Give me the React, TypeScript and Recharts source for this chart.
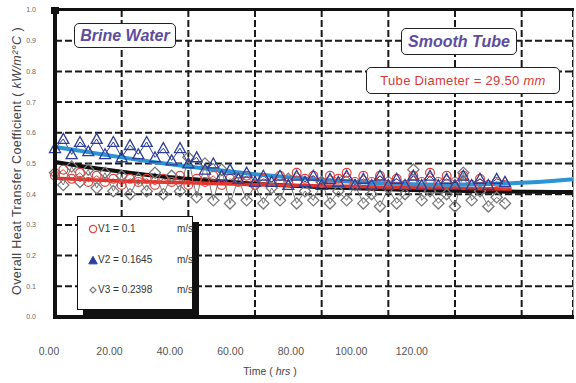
import { CartesianGrid, ComposedChart, Legend, Line, XAxis, YAxis } from "recharts";

// sampling times of the measured runs (hrs)
const hours = [
  0, 2.5, 5, 7.5, 10, 12.5, 15, 17.5, 20, 22.5, 25, 27.5, 30, 32.5, 35, 37.5, 40, 42.5, 45, 47.5,
  50, 52.5, 55, 57.5, 60, 62.5, 65, 67.5, 70, 72.5, 75, 77.5, 80, 82.5, 85, 87.5, 90, 92.5, 95, 97.5,
  100, 102.5, 105, 107.5, 110, 112.5, 115, 117.5, 120, 122.5, 125, 127.5, 130, 132.5, 135,
];

// V1 = 0.1 m/s
const v1 = [
  0.46, 0.48, 0.45, 0.47, 0.44, 0.46, 0.44, 0.45, 0.43, 0.45, 0.44, 0.45, 0.43, 0.45, 0.44, 0.46, 0.43, 0.45, 0.44, 0.46,
  0.43, 0.45, 0.44, 0.46, 0.43, 0.45, 0.44, 0.46, 0.44, 0.47, 0.45, 0.46, 0.44, 0.46, 0.45, 0.47, 0.44, 0.46, 0.44, 0.46,
  0.44, 0.45, 0.43, 0.46, 0.44, 0.47, 0.44, 0.46, 0.44, 0.46, 0.43, 0.45, 0.43, 0.44, 0.43,
];

// V2 = 0.1645 m/s
const v2 = [
  0.55, 0.58, 0.53, 0.57, 0.54, 0.58, 0.53, 0.57, 0.52, 0.56, 0.53, 0.57, 0.52, 0.55, 0.51, 0.55, 0.5, 0.52, 0.48, 0.5,
  0.46, 0.48, 0.45, 0.47, 0.44, 0.46, 0.44, 0.46, 0.43, 0.46, 0.44, 0.46, 0.43, 0.45, 0.44, 0.46, 0.43, 0.45, 0.43, 0.46,
  0.43, 0.45, 0.43, 0.46, 0.43, 0.46, 0.43, 0.45, 0.43, 0.46, 0.43, 0.45, 0.43, 0.45, 0.44,
];

// V3 = 0.2398 m/s
const v3 = [
  0.47, 0.43, 0.49, 0.44, 0.48, 0.42, 0.47, 0.41, 0.46, 0.4, 0.45, 0.41, 0.47, 0.4, 0.46, 0.41, 0.52, 0.39, 0.5, 0.38,
  0.48, 0.37, 0.45, 0.38, 0.43, 0.37, 0.42, 0.38, 0.45, 0.37, 0.41, 0.38, 0.44, 0.37, 0.41, 0.38, 0.43, 0.37, 0.4, 0.36,
  0.42, 0.37, 0.4, 0.48, 0.38, 0.41, 0.37, 0.4, 0.36, 0.47, 0.38, 0.41, 0.36, 0.39, 0.37,
];

// fitted trend curves
const trendHours = [0, 10, 20, 30, 40, 50, 60, 70, 80, 90, 100, 110, 120, 130, 140, 150, 155.4];
const trendV2 = [0.554, 0.537, 0.52, 0.504, 0.49, 0.477, 0.465, 0.455, 0.447, 0.44, 0.435, 0.432, 0.431, 0.433, 0.437, 0.444, 0.449];
const trendV3 = [0.505, 0.488, 0.473, 0.46, 0.45, 0.441, 0.434, 0.428, 0.423, 0.419, 0.416, 0.413, 0.411, 0.409, 0.408, 0.407, 0.407];
const trendV1Hours = [0, 10, 20, 30, 40, 50, 60, 70, 80, 90, 100, 110, 120, 130, 137];
const trendV1 = [0.452, 0.447, 0.443, 0.44, 0.437, 0.434, 0.431, 0.429, 0.427, 0.425, 0.423, 0.421, 0.419, 0.418, 0.417];

const xTicks = [0, 20, 40, 60, 80, 100, 120, 140];
const lastLabel = 120;
const yTicks = [0, 0.1, 0.2, 0.3, 0.4, 0.5, 0.6, 0.7, 0.8, 0.9, 1.0];
const X_MAX = 155.4;

const FONT = "'Liberation Sans', Arial, sans-serif";
const RED = "#e0463e";
const NAVY = "#2e3d96";
const GRAY = "#7a7a7a";
const PURPLE = "#5c4d9e";

// plot box in page pixels (margin + axis sizes below)
const PLOT = { left: 55, top: 10, right: 573, bottom: 317 };

const toRows = (xs: number[], ys: number[]) => xs.map((h, i) => ({ h, v: ys[i] }));

const v1Rows = toRows(hours, v1);
const v2Rows = toRows(hours, v2);
const v3Rows = toRows(hours, v3);
const trendV1Rows = toRows(trendV1Hours, trendV1);
const trendV2Rows = toRows(trendHours, trendV2);
const trendV3Rows = toRows(trendHours, trendV3);

function triPath(cx: number, cy: number, s: number) {
  return `M${cx},${cy - s} L${cx + s},${cy + s * 0.8} L${cx - s},${cy + s * 0.8} Z`;
}

function diaPath(cx: number, cy: number, s: number) {
  return `M${cx},${cy - s} L${cx + s},${cy} L${cx},${cy + s} L${cx - s},${cy} Z`;
}

function circleDot(p: any) {
  return <circle key={`c${p.index}`} cx={p.cx} cy={p.cy} r={4.4} fill="none" stroke={RED} strokeWidth={1.2} />;
}

function triDot(p: any) {
  return <path key={`t${p.index}`} d={triPath(p.cx, p.cy, 5.5)} fill="none" stroke={NAVY} strokeWidth={1.3} />;
}

function diaDot(p: any) {
  return <path key={`d${p.index}`} d={diaPath(p.cx, p.cy, 5.6)} fill="none" stroke={GRAY} strokeWidth={1.3} />;
}

// the printed hour labels sit a little left of their grid lines and drift further left
function HourTick(p: any) {
  const v = p.payload.value;
  if (v > lastLabel) return null;
  return (
    <text x={p.x - 6 - v * 0.31} y={p.y + 30} textAnchor="middle" fontSize={10.5} fill="#555" fontFamily={FONT}>
      {v.toFixed(2)}
    </text>
  );
}

function LegendBox() {
  const rows = [
    { mark: <circle cx={5} cy={5} r={3.6} fill="none" stroke={RED} strokeWidth={1.2} />, label: "V1 = 0.1" },
    { mark: <path d={triPath(5, 5.5, 4.2)} fill={NAVY} stroke={NAVY} strokeWidth={1} />, label: "V2 = 0.1645" },
    { mark: <path d={diaPath(5, 5, 3)} fill="none" stroke={GRAY} strokeWidth={1.1} />, label: "V3 = 0.2398" },
  ];
  return (
    <div
      style={{
        width: 116,
        height: 94,
        boxSizing: "border-box",
        border: "1px solid #111",
        background: "#fff",
        boxShadow: "6px 6px 0 #111",
        fontFamily: FONT,
        fontSize: 10,
        color: "#333",
      }}
    >
      {rows.map((r, i) => (
        <div key={i} style={{ position: "relative", height: 30.5, top: 2 }}>
          <svg width={10} height={11} style={{ position: "absolute", left: 10, top: 5 }}>
            {r.mark}
          </svg>
          <span style={{ position: "absolute", left: 20, top: 4 }}>{r.label}</span>
          <span style={{ position: "absolute", left: 99, top: 4 }}>m/s</span>
        </div>
      ))}
    </div>
  );
}

const boxStyle = {
  position: "absolute" as const,
  boxSizing: "border-box" as const,
  border: "1.5px solid #222",
  borderRadius: 5,
  background: "#fff",
  display: "flex",
  alignItems: "center",
  justifyContent: "center",
  fontFamily: FONT,
};

// heavy frame edges as plain blocks so they cannot be lost
const edge = (left: number, top: number, width: number, height: number, color = "#111") => ({
  position: "absolute" as const,
  left,
  top,
  width,
  height,
  background: color,
});

export default function App() {
  return (
    <div style={{ position: "absolute", left: 0, top: 0, width: 576, height: 383, background: "#fff" }}>
      <ComposedChart width={576} height={383} margin={{ top: 10, right: 3, bottom: 0, left: 0 }}>
        <CartesianGrid stroke="#1a1a1a" strokeWidth={2} strokeDasharray="7 3" />
        <XAxis
          type="number"
          dataKey="h"
          domain={[0, X_MAX]}
          ticks={xTicks}
          interval={0}
          height={66}
          axisLine={false}
          tickLine={false}
          tick={HourTick}
          label={(props: any) => {
            const vb = props.viewBox;
            return (
              <text x={270} y={vb.y + 58} textAnchor="middle" fontSize={10.5} fill="#444" fontFamily={FONT}>
                {"Time  (  "}
                <tspan fontStyle="italic">hrs</tspan>
                {"  )"}
              </text>
            );
          }}
        />
        <YAxis
          type="number"
          domain={[0, 1]}
          ticks={yTicks}
          interval={0}
          width={55}
          axisLine={false}
          tickLine={false}
          tickSize={0}
          tickMargin={19}
          tick={{ fontSize: 7, fill: "#666", fontFamily: FONT }}
          tickFormatter={(v: number) => v.toFixed(1)}
          label={() => {
            const cx = 17;
            const cy = 161;
            return (
              <text
                x={cx}
                y={cy}
                transform={`rotate(-90 ${cx} ${cy})`}
                textAnchor="middle"
                dominantBaseline="central"
                fontSize={12.5}
                letterSpacing={0.4}
                fill="#444"
                fontFamily={FONT}
              >
                {"Overall Heat Transfer Coefficient  (  "}
                <tspan fontStyle="italic">kW/m²°C</tspan>
                {"  )"}
              </text>
            );
          }}
        />

        <Line data={v3Rows} dataKey="v" stroke={GRAY} strokeWidth={1} dot={diaDot} isAnimationActive={false} />
        <Line data={v1Rows} dataKey="v" stroke={RED} strokeWidth={1} dot={circleDot} isAnimationActive={false} />
        <Line data={v2Rows} dataKey="v" stroke={NAVY} strokeWidth={1} dot={triDot} isAnimationActive={false} />

        <Line data={trendV3Rows} dataKey="v" type="monotone" stroke="#111" strokeWidth={4} dot={false} isAnimationActive={false} />
        <Line data={trendV1Rows} dataKey="v" type="monotone" stroke="#e3322b" strokeWidth={3.5} dot={false} isAnimationActive={false} />
        <Line data={trendV2Rows} dataKey="v" type="monotone" stroke="#2b93d6" strokeWidth={4} dot={false} isAnimationActive={false} />

        <Legend
          layout="vertical"
          align="center"
          verticalAlign="middle"
          content={LegendBox}
          wrapperStyle={{ left: 77, top: 216, width: 116, height: 94 }}
        />
      </ComposedChart>

      {/* plot frame: heavy left/bottom/top edges, thin grey right edge */}
      <div style={edge(PLOT.right, PLOT.top, 1, PLOT.bottom - PLOT.top, "#999")} />
      <div style={edge(PLOT.left - 1, PLOT.top - 2, PLOT.right - PLOT.left + 2, 3)} />
      <div style={edge(PLOT.left - 2, PLOT.top - 2, 4, PLOT.bottom - PLOT.top + 4)} />
      <div style={edge(PLOT.left - 2, PLOT.bottom - 2, PLOT.right - PLOT.left + 3, 4)} />
      <div style={edge(PLOT.left - 4, PLOT.top - 3, 8, 7)} />

      <div style={{ ...boxStyle, left: 74, top: 23, width: 102, height: 25 }}>
        <span style={{ color: PURPLE, fontWeight: "bold", fontStyle: "italic", fontSize: 16 }}>Brine Water</span>
      </div>
      <div style={{ ...boxStyle, left: 401, top: 28, width: 116, height: 27 }}>
        <span style={{ color: PURPLE, fontWeight: "bold", fontStyle: "italic", fontSize: 16 }}>Smooth Tube</span>
      </div>
      <div style={{ ...boxStyle, left: 366, top: 67, width: 194, height: 27 }}>
        <span style={{ color: "#d63a35", fontSize: 13, letterSpacing: 0.3 }}>
          Tube Diameter = 29.50 <span style={{ fontStyle: "italic" }}>mm</span>
        </span>
      </div>
    </div>
  );
}
